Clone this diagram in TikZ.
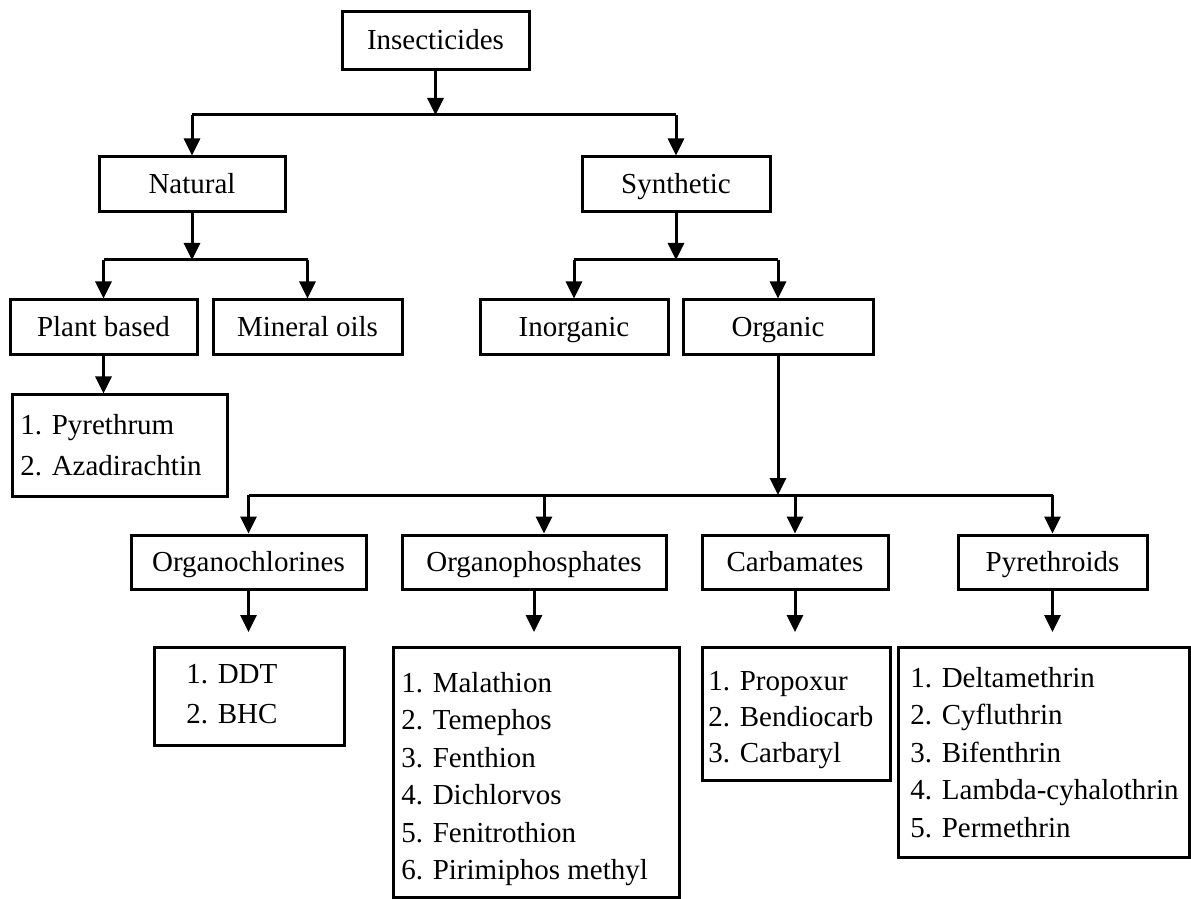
\documentclass[tikz,border=0pt]{standalone}
\usepackage{fontspec}
\setmainfont{Liberation Serif}
\usetikzlibrary{arrows.meta}
\tikzset{
  box/.style={draw, line width=1.5pt, inner sep=0pt, text height=9pt, text depth=0pt, font=\fontsize{14.5}{18.75}\selectfont},
  item/.style={inner sep=0pt, anchor=base west, font=\fontsize{14.5}{18.75}\selectfont},
  link/.style={line width=1.5pt},
  arr/.style={line width=1.5pt, -{Triangle[width=8pt,length=8.5pt]}},
}
\newcommand\bx[6]{\node[box, minimum width={(#4-#2)*0.5pt}, minimum height={(#5-#3)*0.5pt}] (#1) at ({(#2+#4)/2},{(#3+#5)/2}) {#6};}
\begin{document}
\begin{tikzpicture}[x=0.5pt,y=-0.5pt]
\useasboundingbox (0,0) rectangle (1191,899);
\fill[white] (0,0) rectangle (1191,899);

% junction rows
\coordinate (r1) at (0,115);
\coordinate (r2) at (0,260);
\coordinate (r3) at (0,495);
\coordinate (r4) at (0,632);
\coordinate (opin) at (544,495);

% boxes
\bx{ins}{342}{12}{529}{70}{Insecticides}
\bx{nat}{99}{157}{285}{212}{Natural}
\bx{syn}{582}{157}{770}{212}{Synthetic}
\bx{pb}{10}{300}{197}{355}{Plant based}
\bx{mo}{213}{300}{402}{355}{Mineral oils}
\bx{ino}{480}{300}{668}{355}{Inorganic}
\bx{org}{683}{300}{873}{355}{Organic}
\bx{oc}{131}{535}{366}{589}{Organochlorines}
\bx{op}{402}{535}{666}{589}{Organophosphates}
\bx{cb}{702}{535}{888}{589}{Carbamates}
\bx{py}{958}{535}{1147}{589}{Pyrethroids}

\bx{lpt}{12}{395}{227}{496}{}
\bx{loc}{154}{647}{344}{745}{}
\bx{lop}{393}{647}{679}{897}{}
\bx{lcb}{702}{647}{890}{780}{}
\bx{lpy}{898}{647}{1189}{857}{}

% list texts
\foreach \t [count=\i] in {1. Pyrethrum, 2. Azadirachtin}
  \node[item] (pt\i) at (20,{435+(\i-1)*40}) {\t};
\foreach \t [count=\i] in {1. DDT, 2. BHC}
  \node[item] (oc\i) at (186,{683+(\i-1)*40}) {\t};
\foreach \t [count=\i] in {1. Malathion, 2. Temephos, 3. Fenthion, 4. Dichlorvos, 5. Fenitrothion, 6. Pirimiphos methyl}
  \node[item] (op\i) at (401,{692+(\i-1)*37.5}) {\t};
\foreach \t [count=\i] in {1. Propoxur, 2. Bendiocarb, 3. Carbaryl}
  \node[item] (cb\i) at (708,{690+(\i-1)*36}) {\t};
\foreach \t [count=\i] in {1. Deltamethrin, 2. Cyfluthrin, 3. Bifenthrin, 4. Lambda-cyhalothrin, 5. Permethrin}
  \node[item] (py\i) at (910,{687+(\i-1)*37.5}) {\t};

% connectors
\draw[arr] (ins.south) -- (ins.south |- r1);
\draw[link] (nat.north |- r1) -- (syn.north |- r1);
\draw[arr] (nat.north |- r1) -- (nat.north);
\draw[arr] (syn.north |- r1) -- (syn.north);

\draw[arr] (nat.south) -- (nat.south |- r2);
\draw[link] (pb.north |- r2) -- (mo.north |- r2);
\draw[arr] (pb.north |- r2) -- (pb.north);
\draw[arr] (mo.north |- r2) -- (mo.north);

\draw[arr] (syn.south) -- (syn.south |- r2);
\draw[link] (ino.north |- r2) -- (org.north |- r2);
\draw[arr] (ino.north |- r2) -- (ino.north);
\draw[arr] (org.north |- r2) -- (org.north);

\draw[arr] (pb.south) -- (pb.south |- lpt.north);

\draw[arr] (org.south) -- (org.south |- r3);
\draw[link] (oc.north |- r3) -- (py.north |- r3);
\draw[arr] (oc.north |- r3) -- (oc.north);
\draw[arr] (opin) -- (opin |- op.north);
\draw[arr] (cb.north |- r3) -- (cb.north);
\draw[arr] (py.north |- r3) -- (py.north);

\draw[arr] (oc.south) -- (oc.south |- r4);
\draw[arr] (op.south) -- (op.south |- r4);
\draw[arr] (cb.south) -- (cb.south |- r4);
\draw[arr] (py.south) -- (py.south |- r4);
\end{tikzpicture}
\end{document}
